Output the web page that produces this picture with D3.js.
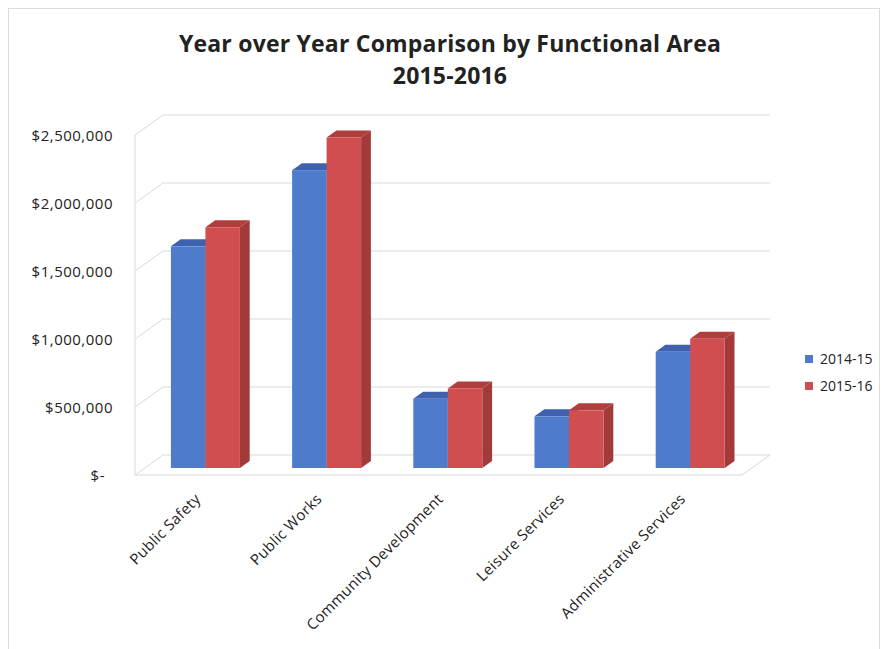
<!DOCTYPE html>
<html>
<head>
<meta charset="utf-8">
<script src="https://cdn.jsdelivr.net/npm/d3@7"></script>
<style>
  body { margin: 0; background: #fff; }
  text { font-family: "Open Sans", "Noto Sans", sans-serif; fill: #222; }
</style>
</head>
<body>
<svg id="chart" width="887" height="649"></svg>
<script>
// Data
const categories = ["Public Safety", "Public Works", "Community Development", "Leisure Services", "Administrative Services"];
const seriesNames = ["2014-15", "2015-16"];
const values2014 = [1630000, 2190000, 510000, 380000, 855000];
const values2015 = [1770000, 2430000, 585000, 424000, 950000];
const yTicks = [0, 500000, 1000000, 1500000, 2000000, 2500000];

const svg = d3.select('#chart');

// 3D look: front plane plus depth offset
const floorY = 475;            // front baseline
const wallDX = 28, wallDY = 20; // full depth of the plot box
const barZ = 0.35, barDepth = 0.35;

const x = d3.scaleBand().domain(categories).range([135, 741]);
const xSub = d3.scaleBand().domain(seriesNames).range([0, 69]);
const h = d3.scaleLinear().domain([0, 2500000]).range([0, 340]);

const colors = {
    "2014-15": { front: "#4f7bcd", top: "#3f62ae", side: "#3b5a9e" },
    "2015-16": { front: "#d14e50", top: "#b23d3d", side: "#a23a39" }
};

// outer frame
svg.append('rect')
    .attr('x', 8.5).attr('y', 8.5)
    .attr('width', 871).attr('height', 700)
    .attr('fill', 'none').attr('stroke', '#dcdcdc');

// title
svg.append('text').attr('x', 450).attr('y', 52)
    .attr('text-anchor', 'middle').attr('font-size', 23).attr('font-weight', 'bold')
    .attr('letter-spacing', 0.2)
    .text('Year over Year Comparison by Functional Area');
svg.append('text').attr('x', 450).attr('y', 84)
    .attr('text-anchor', 'middle').attr('font-size', 23).attr('font-weight', 'bold')
    .attr('letter-spacing', 0.2)
    .text('2015-2016');

// walls and gridlines
const grid = svg.append('g').attr('stroke', '#d9d9d9').attr('fill', 'none');
yTicks.forEach(t => {
    const yf = floorY - h(t);
    const yb = yf - wallDY;
    grid.append('path').attr('d', `M135,${yf}L${135 + wallDX},${yb}L770,${yb}`);
});
grid.append('path').attr('d', `M135,${floorY}L135,${floorY - h(2500000)}`);
grid.append('path').attr('d', `M135,${floorY}L${770 - wallDX},${floorY}L770,${floorY - wallDY}`);

// y labels
svg.append('g').selectAll('text').data(yTicks).join('text')
    .attr('x', d => d === 0 ? 105 : 113)
    .attr('y', d => floorY - h(d) + 6)
    .attr('text-anchor', 'end')
    .attr('font-size', 15)
    .attr('letter-spacing', 0.5)
    .text(d => d === 0 ? '$-' : '$' + d3.format(',')(d));

// bars
const rows = [];
categories.forEach((c, i) => {
    rows.push({ cat: c, s: "2014-15", v: values2014[i] });
    rows.push({ cat: c, s: "2015-16", v: values2015[i] });
});

const bars = svg.append('g');
const off = (x.bandwidth() - 69) / 2;
const dx = barDepth * wallDX, dy = barDepth * wallDY;
rows.forEach(r => {
    const x0 = x(r.cat) + off + xSub(r.s) + barZ * wallDX;
    const x1 = x0 + xSub.bandwidth();
    const yb = floorY - barZ * wallDY;
    const yt = yb - h(r.v);
    const col = colors[r.s];
    bars.append('path').attr('fill', col.side)
        .attr('d', `M${x1},${yt}L${x1 + dx},${yt - dy}L${x1 + dx},${yb - dy}L${x1},${yb}Z`);
    bars.append('path').attr('fill', col.top)
        .attr('d', `M${x0},${yt}L${x0 + dx},${yt - dy}L${x1 + dx},${yt - dy}L${x1},${yt}Z`);
    bars.append('rect').attr('fill', col.front)
        .attr('x', x0).attr('y', yt).attr('width', x1 - x0).attr('height', yb - yt);
});

// category labels
svg.append('g').selectAll('text').data(categories).join('text')
    .attr('transform', d => `translate(${x(d) + x.bandwidth() / 2 + 6},${500}) rotate(-45)`)
    .attr('text-anchor', 'end')
    .attr('font-size', 15)
    .attr('letter-spacing', 0.3)
    .text(d => d);

// legend
const legend = svg.append('g');
seriesNames.forEach((s, i) => {
    legend.append('rect').attr('x', 805).attr('y', 355 + i * 27)
        .attr('width', 8).attr('height', 8).attr('fill', colors[s].front);
    legend.append('text').attr('x', 820).attr('y', 364 + i * 27)
        .attr('font-size', 14).text(s);
});
</script>
</body>
</html>
